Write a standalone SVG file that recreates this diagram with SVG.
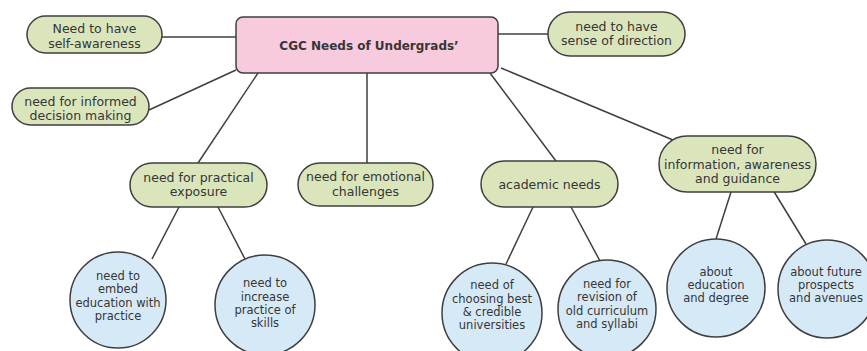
<svg xmlns="http://www.w3.org/2000/svg" width="867" height="351" viewBox="0 0 867 351">
<style>
.pill{fill:#dae5bc;stroke:#3f3f3f;stroke-width:1.5}
.circ{fill:#d6e9f6;stroke:#3f3f3f;stroke-width:1.5}
.main{fill:#f8cade;stroke:#3f3f3f;stroke-width:1.5}
.edge{stroke:#3f3f3f;stroke-width:1.5;fill:none}
text{font-family:"DejaVu Sans","Liberation Sans",sans-serif;fill:#363636;text-anchor:middle}
.t{font-size:12.5px}
.c{font-size:11.5px}
.b{font-size:12px;font-weight:bold}
</style>
<rect width="867" height="351" fill="#ffffff"/>
<g id="connectors">
<line class="edge" x1="162" y1="37" x2="236" y2="37"/>
<line class="edge" x1="149" y1="110" x2="236" y2="70"/>
<line class="edge" x1="258" y1="73" x2="198" y2="163"/>
<line class="edge" x1="367" y1="73" x2="367" y2="163"/>
<line class="edge" x1="498" y1="34" x2="548" y2="34"/>
<line class="edge" x1="490" y1="73" x2="556" y2="161"/>
<line class="edge" x1="501" y1="68" x2="673" y2="140"/>
<line class="edge" x1="179" y1="207" x2="152" y2="259"/>
<line class="edge" x1="218" y1="207" x2="245" y2="259"/>
<line class="edge" x1="533" y1="207" x2="506" y2="264"/>
<line class="edge" x1="571" y1="207" x2="600" y2="261"/>
<line class="edge" x1="731" y1="192" x2="716" y2="239"/>
<line class="edge" x1="773" y1="190" x2="806" y2="244"/>
</g>
<g id="main">
<rect class="main" x="236" y="17" width="262" height="56" rx="7"/>
<text class="b" x="369" y="49.5">CGC Needs of Undergrads’</text>
</g>
<g id="self-awareness">
<rect class="pill" x="27" y="16" width="135" height="37" rx="18.5"/>
<text class="t" x="94.5" y="33"><tspan x="94.5">Need to have</tspan><tspan x="94.5" dy="14.6">self-awareness</tspan></text>
</g>
<g id="informed">
<rect class="pill" x="12" y="88" width="137" height="37" rx="18.5"/>
<text class="t" x="80.5" y="105.5"><tspan x="80.5">need for informed</tspan><tspan x="80.5" dy="14.6">decision making</tspan></text>
</g>
<g id="direction">
<rect class="pill" x="548" y="12" width="137" height="44" rx="22"/>
<text class="t" x="616.5" y="30.5"><tspan x="616.5">need to have</tspan><tspan x="616.5" dy="14.6">sense of direction</tspan></text>
</g>
<g id="practical">
<rect class="pill" x="130" y="163" width="137" height="44" rx="22"/>
<text class="t" x="198.5" y="181.5"><tspan x="198.5">need for practical</tspan><tspan x="198.5" dy="14.6">exposure</tspan></text>
</g>
<g id="emotional">
<rect class="pill" x="298" y="163" width="135" height="43" rx="21.5"/>
<text class="t" x="365.5" y="181"><tspan x="365.5">need for emotional</tspan><tspan x="365.5" dy="14.6">challenges</tspan></text>
</g>
<g id="academic">
<rect class="pill" x="481" y="161" width="137" height="46" rx="23"/>
<text class="t" x="549.5" y="188.5">academic needs</text>
</g>
<g id="information">
<rect class="pill" x="659" y="136" width="157" height="56" rx="28"/>
<text class="t" x="737.5" y="154"><tspan x="737.5">need for</tspan><tspan x="737.5" dy="14.6">information, awareness</tspan><tspan x="737.5" dy="14.6">and guidance</tspan></text>
</g>
<g id="embed">
<circle class="circ" cx="118" cy="300" r="48"/>
<text class="c" x="118" y="279.7"><tspan x="118">need to</tspan><tspan x="118" dy="13.4">embed</tspan><tspan x="118" dy="13.4">education with</tspan><tspan x="118" dy="13.4">practice</tspan></text>
</g>
<g id="increase">
<circle class="circ" cx="265" cy="305" r="50"/>
<text class="c" x="265" y="287.2"><tspan x="265">need to</tspan><tspan x="265" dy="13.4">increase</tspan><tspan x="265" dy="13.4">practice of</tspan><tspan x="265" dy="13.4">skills</tspan></text>
</g>
<g id="choosing">
<circle class="circ" cx="492" cy="313" r="50"/>
<text class="c" x="492" y="289.2"><tspan x="492">need of</tspan><tspan x="492" dy="13.4">choosing best</tspan><tspan x="492" dy="13.4">&amp; credible</tspan><tspan x="492" dy="13.4">universities</tspan></text>
</g>
<g id="revision">
<circle class="circ" cx="607" cy="309" r="49"/>
<text class="c" x="607" y="287.7"><tspan x="607">need for</tspan><tspan x="607" dy="13.4">revision of</tspan><tspan x="607" dy="13.4">old curriculum</tspan><tspan x="607" dy="13.4">and syllabi</tspan></text>
</g>
<g id="education">
<circle class="circ" cx="716" cy="288" r="49"/>
<text class="c" x="716" y="275.6"><tspan x="716">about</tspan><tspan x="716" dy="13.4">education</tspan><tspan x="716" dy="13.4">and degree</tspan></text>
</g>
<g id="future">
<circle class="circ" cx="827" cy="289" r="49"/>
<text class="c" x="826" y="275.6"><tspan x="826">about future</tspan><tspan x="826" dy="13.4">prospects</tspan><tspan x="826" dy="13.4">and avenues</tspan></text>
</g>
</svg>
